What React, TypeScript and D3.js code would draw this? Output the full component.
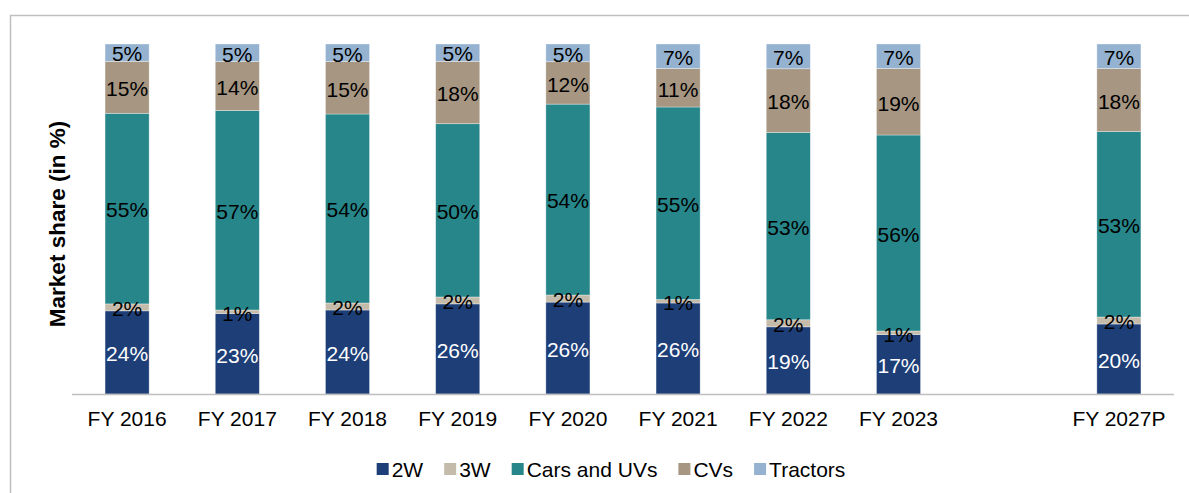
import React, { useEffect, useRef } from "react";
import * as d3 from "d3";

// categories ("" is the empty slot before the projection)
const years = ["FY 2016", "FY 2017", "FY 2018", "FY 2019", "FY 2020", "FY 2021", "FY 2022", "FY 2023", "", "FY 2027P"];
const seriesNames = ["2W", "3W", "Cars and UVs", "CVs", "Tractors"];

// market share per segment (%), same order as years
const twoWheelers = [24, 23, 24, 26, 26, 26, 19, 17, null, 20];
const threeWheelers = [2, 1, 2, 2, 2, 1, 2, 1, null, 2];
const carsAndUVs = [55, 57, 54, 50, 54, 55, 53, 56, null, 53];
const cvs = [15, 14, 15, 18, 12, 11, 18, 19, null, 18];
const tractors = [5, 5, 5, 5, 5, 7, 7, 7, null, 7];

const colors = ["#1D3E77", "#C5BBAA", "#27868A", "#A69682", "#95B3D1"];
const labelColors = ["#ffffff", "#000000", "#000000", "#000000", "#000000"];

const W = 1189;
const H = 493;
const FONT = "'Liberation Sans', Arial, sans-serif";

export default function App() {
  const svgRef = useRef(null);

  useEffect(() => {
    const svg = d3.select(svgRef.current);
    svg.selectAll("*").remove();

    const series = [twoWheelers, threeWheelers, carsAndUVs, cvs, tractors];
    const rows = years
      .map((year, i) => {
        const row = { year };
        seriesNames.forEach((s, k) => (row[s] = series[k][i]));
        return row;
      })
      .filter((r) => r.year !== "");

    const x = d3.scaleBand().domain(years).range([72, 1174]).paddingInner(0.6).paddingOuter(0.3);
    const y = d3.scaleLinear().domain([0, 1]).range([394, 44]);

    const stacked = d3.stack().keys(seriesNames).offset(d3.stackOffsetExpand)(rows);

    // outer frame
    svg
      .append("rect")
      .attr("x", 10.5)
      .attr("y", 15.5)
      .attr("width", 1250)
      .attr("height", 600)
      .attr("fill", "none")
      .attr("stroke", "#BFBFBF")
      .attr("stroke-width", 1.5);

    const groups = svg
      .selectAll("g.layer")
      .data(stacked)
      .join("g")
      .attr("class", "layer")
      .attr("fill", (d, i) => colors[i]);

    groups
      .selectAll("rect")
      .data((d) => d)
      .join("rect")
      .attr("x", (d) => x(d.data.year))
      .attr("width", x.bandwidth())
      .attr("y", (d) => y(d[1]))
      .attr("height", (d) => y(d[0]) - y(d[1]))
      .attr("stroke", "#ffffff")
      .attr("stroke-opacity", 0.45)
      .attr("stroke-width", 0.75);

    // value labels
    stacked.forEach((layer, i) => {
      svg
        .append("g")
        .selectAll("text")
        .data(layer)
        .join("text")
        .attr("x", (d) => x(d.data.year) + x.bandwidth() / 2)
        .attr("y", (d) => (y(d[0]) + y(d[1])) / 2)
        .attr("dy", "0.42em")
        .attr("text-anchor", "middle")
        .attr("font-family", FONT)
        .attr("font-size", 21)
        .attr("fill", labelColors[i])
        .text((d) => d.data[layer.key] + "%");
    });

    // x axis
    const axis = svg.append("g").attr("transform", "translate(0,394)");
    axis
      .call(d3.axisBottom(x).tickSize(0).tickPadding(17))
      .call((g) => g.select(".domain").attr("stroke", "#BFBFBF").attr("stroke-width", 1.5).attr("d", "M72,0.5H1174"))
      .call((g) =>
        g.selectAll("text").attr("font-family", FONT).attr("font-size", 21).attr("fill", "#000")
      );

    // y title
    svg
      .append("text")
      .attr("transform", "translate(57,224) rotate(-90)")
      .attr("text-anchor", "middle")
      .attr("dy", "0.36em")
      .attr("font-family", FONT)
      .attr("font-size", 22.5)
      .attr("font-weight", "bold")
      .attr("fill", "#000")
      .text("Market share (in %)");

    // legend
    const legend = svg.append("g");
    let cx = 0;
    seriesNames.forEach((name, i) => {
      const item = legend.append("g").attr("transform", `translate(${cx},0)`);
      item.append("rect").attr("x", 0).attr("y", -6).attr("width", 12).attr("height", 12).attr("fill", colors[i]);
      const t = item
        .append("text")
        .attr("x", 15)
        .attr("dy", "0.36em")
        .attr("font-family", FONT)
        .attr("font-size", 21)
        .attr("fill", "#000")
        .text(name);
      const w = t.node().getComputedTextLength();
      cx += 15 + w + 21;
    });
    const total = cx - 21;
    legend.attr("transform", `translate(${611 - total / 2},469)`);
  }, []);

  return (
    <svg
      ref={svgRef}
      width={W}
      height={H}
      style={{ position: "absolute", left: 0, top: 0, background: "#fff" }}
    ></svg>
  );
}
